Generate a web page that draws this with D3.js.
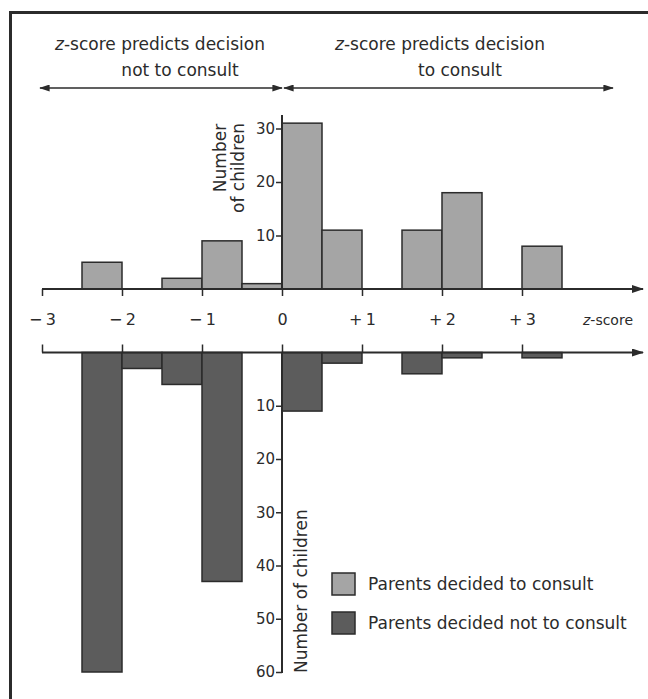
<!DOCTYPE html>
<html>
<head>
<meta charset="utf-8">
<script src="https://cdn.jsdelivr.net/npm/d3@7"></script>
<style>
  body { margin: 0; background: #fff; }
  svg { display: block; font-family: "DejaVu Sans", sans-serif; }
  .tick line { stroke: #2b2b2b; stroke-width: 1.5; }
  .tick text { fill: #2b2b2b; }
</style>
</head>
<body>
<svg id="chart"></svg>
<script>
// lower edge of each half-unit z-score bin
const binStarts = [-3, -2.5, -2, -1.5, -1, -0.5, 0, 0.5, 1, 1.5, 2, 2.5, 3];
const consulted = [0, 5, 0, 2, 9, 1, 31, 11, 0, 11, 18, 0, 8];
const notConsulted = [0, 60, 3, 6, 43, 0, 11, 2, 0, 4, 1, 0, 1];
const zTicks = [-3, -2, -1, 0, 1, 2, 3];
const topCountTicks = [10, 20, 30];
const bottomCountTicks = [10, 20, 30, 40, 50, 60];
const legendLabels = ["Parents decided to consult", "Parents decided not to consult"];

const W = 648, H = 699;
const ink = "#2b2b2b";
const lightFill = "#a5a5a5", darkFill = "#5c5c5c";

const svg = d3.select("#chart").attr("width", W).attr("height", H);

const defs = svg.append("defs");
defs.append("marker").attr("id", "axisHead")
    .attr("viewBox", "0 0 12 8").attr("refX", 11).attr("refY", 4)
    .attr("markerUnits", "userSpaceOnUse").attr("markerWidth", 13).attr("markerHeight", 8)
    .attr("orient", "auto")
    .append("path").attr("d", "M0,0 L12,4 L0,8 Z").attr("fill", ink);
defs.append("marker").attr("id", "smallHead")
    .attr("viewBox", "0 0 12 8").attr("refX", 11).attr("refY", 4)
    .attr("markerUnits", "userSpaceOnUse").attr("markerWidth", 12).attr("markerHeight", 7)
    .attr("orient", "auto-start-reverse")
    .append("path").attr("d", "M0,0 L12,4 L0,8 Z").attr("fill", ink);

// frame
svg.append("path").attr("d", `M10.5,${H} V12.5 H${W}`)
    .attr("fill", "none").attr("stroke", ink).attr("stroke-width", 3);

const x = d3.scaleLinear().domain([-3, 3]).range([42, 522]);
const yTop = d3.scaleLinear().domain([0, 30]).range([289, 128.5]);
const yBot = d3.scaleLinear().domain([0, 60]).range([352.5, 672]);
const topAxisY = yTop(0), botAxisY = yBot(0);

// header
const header = [
  { x: 160, y: 50, parts: [["z", true], ["-score predicts decision", false]] },
  { x: 180, y: 76, parts: [["not to consult", false]] },
  { x: 440, y: 50, parts: [["z", true], ["-score predicts decision", false]] },
  { x: 460, y: 76, parts: [["to consult", false]] }
];
header.forEach(h => {
  const t = svg.append("text").attr("x", h.x).attr("y", h.y)
      .attr("text-anchor", "middle").attr("font-size", 17).attr("fill", ink);
  h.parts.forEach(([s, it]) => t.append("tspan").attr("font-style", it ? "italic" : null).text(s));
});
const mid = x(0) + 1;
svg.append("line").attr("x1", 40).attr("x2", mid - 1).attr("y1", 88).attr("y2", 88)
    .attr("stroke", ink).attr("stroke-width", 1.5)
    .attr("marker-start", "url(#smallHead)").attr("marker-end", "url(#smallHead)");
svg.append("line").attr("x1", mid + 1).attr("x2", 613).attr("y1", 88).attr("y2", 88)
    .attr("stroke", ink).attr("stroke-width", 1.5)
    .attr("marker-start", "url(#smallHead)").attr("marker-end", "url(#smallHead)");

const binW = x(0.5) - x(0);

// upper bars
svg.append("g").selectAll("rect")
  .data(binStarts.map((b, i) => ({ b, v: consulted[i] })).filter(d => d.v > 0))
  .join("rect")
    .attr("x", d => x(d.b)).attr("width", binW)
    .attr("y", d => yTop(d.v)).attr("height", d => topAxisY - yTop(d.v))
    .attr("fill", lightFill).attr("stroke", ink).attr("stroke-width", 1.5);

// lower bars
svg.append("g").selectAll("rect")
  .data(binStarts.map((b, i) => ({ b, v: notConsulted[i] })).filter(d => d.v > 0))
  .join("rect")
    .attr("x", d => x(d.b)).attr("width", binW)
    .attr("y", botAxisY).attr("height", d => yBot(d.v) - botAxisY)
    .attr("fill", darkFill).attr("stroke", ink).attr("stroke-width", 1.5);

const fmtZ = d => d === 0 ? "0" : (d < 0 ? "\u2212\u2009" : "+\u2009") + Math.abs(d);

// top z axis
svg.append("g").attr("transform", `translate(0,${topAxisY})`)
    .call(d3.axisBottom(x).tickValues(zTicks).tickSize(7).tickPadding(18).tickFormat(fmtZ))
    .call(g => g.select(".domain").remove())
    .call(g => g.selectAll("text").attr("font-size", 16).attr("font-family", "DejaVu Sans"));
svg.append("line").attr("x1", x(-3)).attr("x2", 643).attr("y1", topAxisY).attr("y2", topAxisY)
    .attr("stroke", ink).attr("stroke-width", 2).attr("marker-end", "url(#axisHead)");
svg.append("text").attr("x", 633).attr("y", 325).attr("text-anchor", "end")
    .attr("font-size", 14).attr("font-style", "italic").attr("fill", ink)
    .text("z").append("tspan").attr("font-style", "normal").text("-score");

// bottom z axis
svg.append("g").attr("transform", `translate(0,${botAxisY})`)
    .call(d3.axisTop(x).tickValues(zTicks).tickSize(8).tickFormat(""))
    .call(g => g.select(".domain").remove());
svg.append("line").attr("x1", x(-3)).attr("x2", 643).attr("y1", botAxisY).attr("y2", botAxisY)
    .attr("stroke", ink).attr("stroke-width", 2).attr("marker-end", "url(#axisHead)");

// count axes
svg.append("g").attr("transform", `translate(${x(0)},0)`)
    .call(d3.axisLeft(yTop).tickValues(topCountTicks).tickSize(6).tickPadding(1))
    .call(g => g.select(".domain").remove())
    .call(g => g.selectAll("text").attr("font-size", 15).attr("font-family", "DejaVu Sans"));
svg.append("line").attr("x1", x(0)).attr("x2", x(0)).attr("y1", topAxisY).attr("y2", 115)
    .attr("stroke", ink).attr("stroke-width", 2);

svg.append("g").attr("transform", `translate(${x(0)},0)`)
    .call(d3.axisLeft(yBot).tickValues(bottomCountTicks).tickSize(6).tickPadding(1))
    .call(g => g.select(".domain").remove())
    .call(g => g.selectAll("text").attr("font-size", 15).attr("font-family", "DejaVu Sans"));
svg.append("line").attr("x1", x(0)).attr("x2", x(0)).attr("y1", botAxisY).attr("y2", yBot(60) + 1)
    .attr("stroke", ink).attr("stroke-width", 2);

// axis titles
svg.append("text").attr("transform", "translate(226,158) rotate(-90)")
    .attr("text-anchor", "middle").attr("font-size", 17).attr("fill", ink).text("Number");
svg.append("text").attr("transform", "translate(244,168) rotate(-90)")
    .attr("text-anchor", "middle").attr("font-size", 17).attr("fill", ink).text("of children");
svg.append("text").attr("transform", `translate(307,${yBot(60) + 1}) rotate(-90)`)
    .attr("text-anchor", "start").attr("font-size", 17).attr("fill", ink).text("Number of children");

// legend
const legend = svg.append("g").selectAll("g")
  .data(legendLabels.map((l, i) => ({ l, fill: i === 0 ? lightFill : darkFill, i })))
  .join("g").attr("transform", d => `translate(332,${573 + d.i * 39})`);
legend.append("rect").attr("width", 23).attr("height", 22)
    .attr("fill", d => d.fill).attr("stroke", ink).attr("stroke-width", 1.5);
legend.append("text").attr("x", 36).attr("y", 17).attr("font-size", 17).attr("fill", ink)
    .text(d => d.l);
</script>
</body>
</html>
